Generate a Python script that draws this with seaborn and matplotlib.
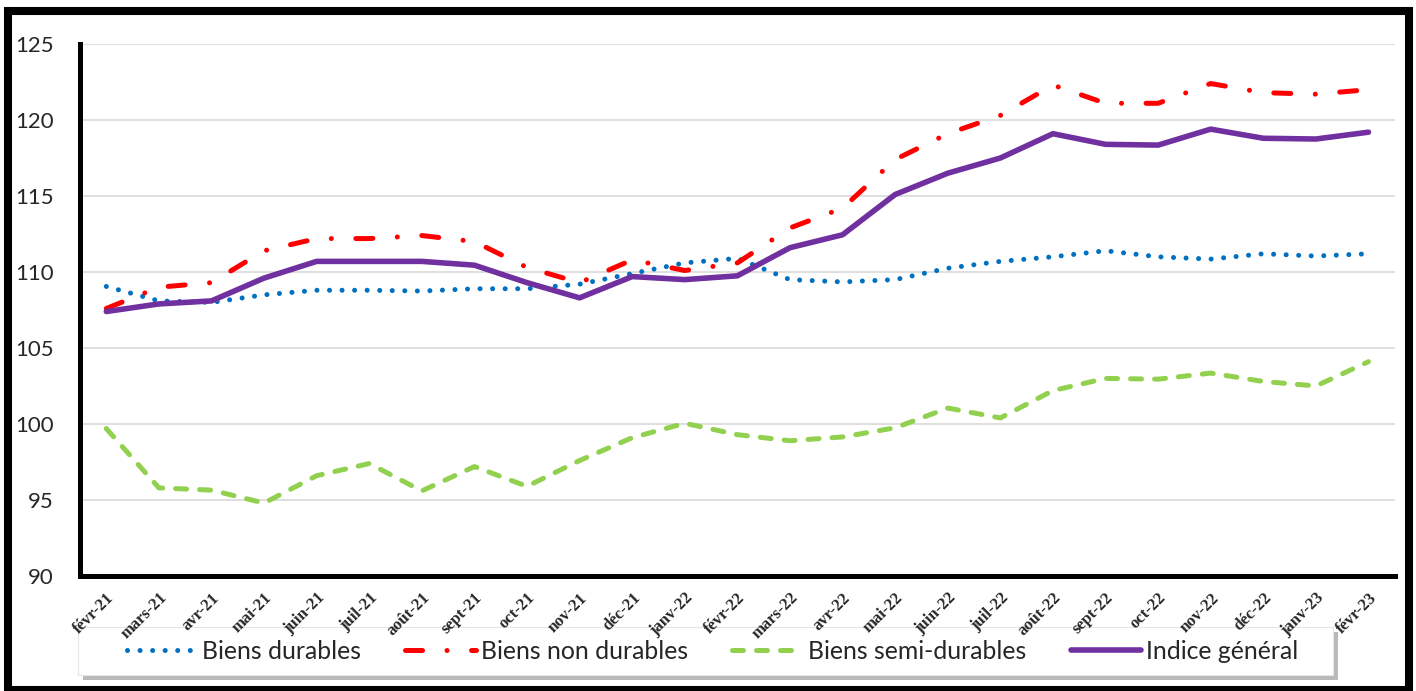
import seaborn as sns
from matplotlib import pyplot as plt
from matplotlib.patches import Rectangle

# données
mois = ["févr-21", "mars-21", "avr-21", "mai-21", "juin-21", "juil-21", "août-21",
        "sept-21", "oct-21", "nov-21", "déc-21", "janv-22", "févr-22", "mars-22",
        "avr-22", "mai-22", "juin-22", "juil-22", "août-22", "sept-22", "oct-22",
        "nov-22", "déc-22", "janv-23", "févr-23"]

biens_durables = [109.05, 108.1, 108.0, 108.5, 108.8, 108.8, 108.75, 108.9, 108.9,
                  109.2, 109.9, 110.6, 110.9, 109.5, 109.35, 109.5, 110.25, 110.7,
                  111.0, 111.4, 111.0, 110.85, 111.2, 111.05, 111.2]
biens_non_durables = [107.6, 109.0, 109.3, 111.4, 112.2, 112.2, 112.4, 112.0, 110.3,
                      109.3, 110.8, 110.1, 110.6, 112.9, 114.2, 117.4, 119.1, 120.3,
                      122.3, 121.1, 121.1, 122.4, 121.8, 121.7, 122.0]
biens_semi_durables = [99.7, 95.8, 95.65, 94.8, 96.6, 97.4, 95.6, 97.2, 95.9, 97.6,
                       99.1, 100.05, 99.3, 98.9, 99.15, 99.75, 101.05, 100.4, 102.2,
                       103.0, 102.95, 103.35, 102.8, 102.5, 104.1]
indice_general = [107.4, 107.9, 108.1, 109.6, 110.7, 110.7, 110.7, 110.45, 109.3,
                  108.3, 109.7, 109.5, 109.75, 111.6, 112.45, 115.1, 116.5, 117.5,
                  119.1, 118.4, 118.35, 119.4, 118.8, 118.75, 119.2]

series = [
    ("Biens durables", biens_durables, "#0070C0", 3.6, (0.01, 2.5)),
    ("Biens non durables", biens_non_durables, "#FF0000", 3.6, (3.4, 4.9, 0.01, 4.9)),
    ("Biens semi-durables", biens_semi_durables, "#92D050", 3.6, (2.2, 2.6)),
    ("Indice général", indice_general, "#7030A0", 4.0, None),
]

sns.set_style("white")
plt.rcParams['font.family'] = ['Lato', 'DejaVu Sans']

fig = plt.figure(figsize=(14.16, 6.91), dpi=100)
ax = fig.add_axes([0.0565, 0.1664, 0.9285, 0.7699])

for nom, vals, couleur, lw, dashes in series:
    sns.lineplot(x=mois, y=vals, ax=ax, color=couleur, linewidth=lw, label=nom,
                 sort=False, dash_capstyle='round')
    if dashes is not None:
        ax.lines[-1].set_dashes(dashes)

ax.set_xlim(-0.5, len(mois) - 0.5)
ax.set_ylim(90, 125)
ax.set_yticks(range(90, 126, 5))
ax.yaxis.grid(True, color='#D9D9D9', linewidth=1.2)
ax.set_axisbelow(True)

ax.spines['top'].set_visible(False)
ax.spines['right'].set_visible(False)
ax.spines['left'].set_linewidth(3.6)
ax.spines['bottom'].set_linewidth(3.6)
ax.spines['left'].set_color('black')
ax.spines['bottom'].set_color('black')
ax.tick_params(axis='both', length=0)
ax.tick_params(axis='y', labelsize=16, pad=19)

ax.set_xticks(range(len(mois)))
ax.set_xticklabels(mois, rotation=45, ha='right', rotation_mode='anchor',
                   fontfamily='Liberation Serif', fontweight='bold', fontsize=12)
ax.tick_params(axis='x', pad=10)
ax.set_xlabel("")
ax.set_ylabel("")

# cadre de la légende avec ombre, dessiné à part (sous les étiquettes des axes)
ombre = Rectangle((0.0586, 0.0163), 0.8863, 0.0695, transform=fig.transFigure,
                  facecolor='#A8A8A8', edgecolor='none', alpha=0.8, zorder=0.3, clip_on=False)
cadre = Rectangle((0.0551, 0.02315), 0.8863, 0.0695, transform=fig.transFigure,
                  facecolor='white', edgecolor='#E6E6E6', linewidth=0.8, zorder=0.4, clip_on=False)
ax.add_artist(ombre)
ax.add_artist(cadre)

leg = ax.legend(loc='center', bbox_to_anchor=(0.481, -0.141), ncol=4, fontsize=17.8,
                frameon=False, handlelength=2.85, handletextpad=0.2, columnspacing=1.8,
                borderpad=0.3)
leg.set_zorder(5)

# cadre noir autour de la figure
fig.patches.append(Rectangle((0.0056, 0.002), 0.9894, 0.9814, transform=fig.transFigure,
                             fill=False, edgecolor='black', linewidth=5.8))

fig.savefig("out.png", dpi=100)
